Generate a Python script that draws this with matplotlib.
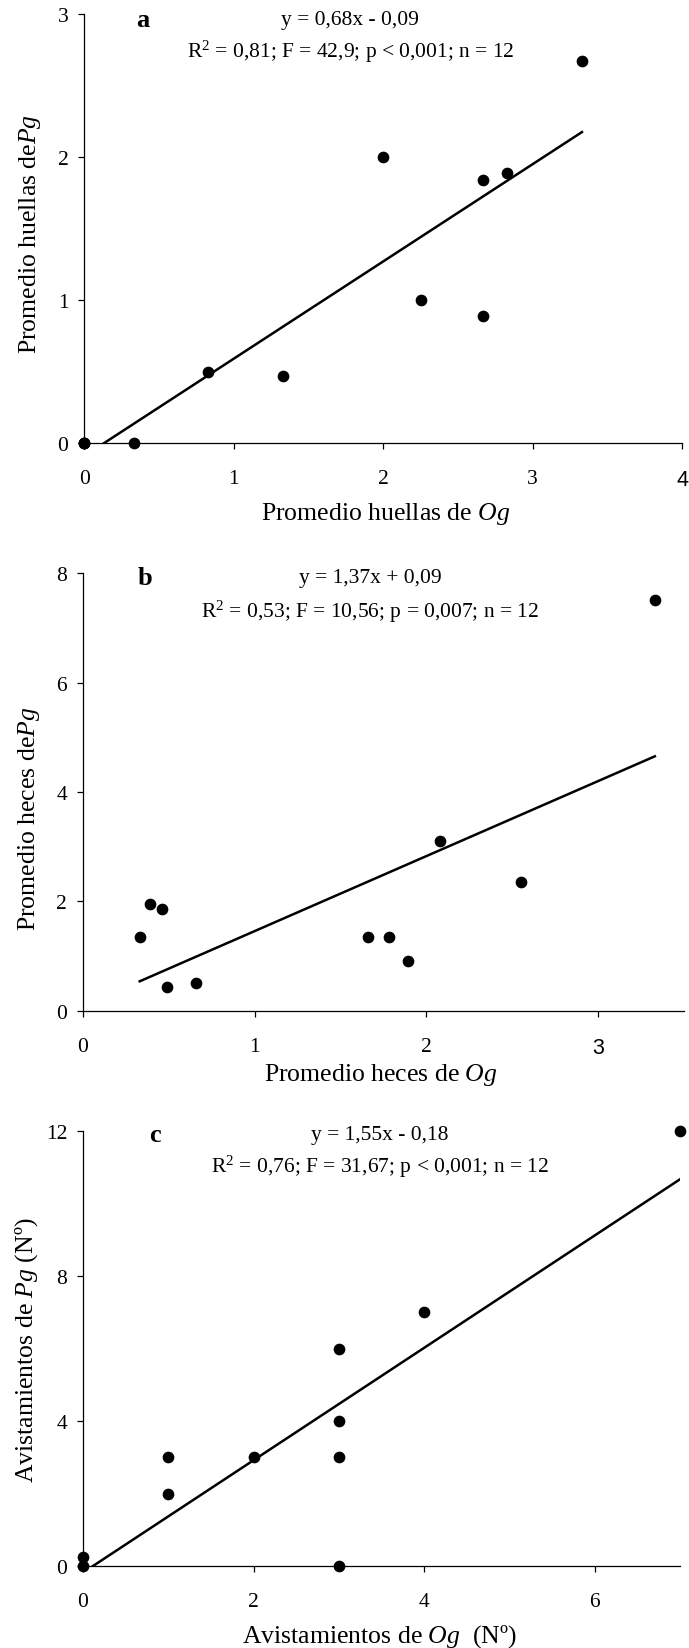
import matplotlib
matplotlib.use("Agg")
import matplotlib.pyplot as plt

plt.rcParams['font.family'] = ['Liberation Serif', 'DejaVu Serif']
plt.rcParams['mathtext.fontset'] = 'custom'
plt.rcParams['mathtext.rm'] = 'Liberation Serif'
plt.rcParams['mathtext.it'] = 'Liberation Serif:italic'
plt.rcParams['mathtext.bf'] = 'Liberation Serif:bold'

# --- data ---
# a: footprints
huellas_og = [0, 0, 0, 0.33, 0.83, 1.33, 2.0, 2.25, 2.67, 2.67, 2.83, 3.33]
huellas_pg = [0, 0, 0, 0, 0.5, 0.47, 2.0, 1.0, 1.84, 0.89, 1.89, 2.67]
coef_a = (0.68, -0.09)

# b: faeces
heces_og = [0.33, 0.39, 0.46, 0.49, 0.66, 1.66, 1.78, 1.89, 2.08, 2.55, 3.33]
heces_pg = [1.35, 1.95, 1.87, 0.43, 0.52, 1.35, 1.35, 0.91, 3.10, 2.35, 7.50]
coef_b = (1.37, 0.09)

# c: sightings
avist_og = [0, 0, 1, 1, 2, 3, 3, 3, 3, 4, 7]
avist_pg = [0, 0.25, 3, 2, 3, 6, 4, 3, 0, 7, 12]
coef_c = (1.55, -0.18)

panels = [
    dict(x=huellas_og, y=huellas_pg, coef=coef_a, letter='a',
         eq='y = 0,68x - 0,09',
         stats='R$^{2}$ = 0,81; F = 42,9; p < 0,001; n = 12',
         xlim=(0, 4), ylim=(0, 3), xticks=[0, 1, 2, 3, 4], yticks=[0, 1, 2, 3],
         xlabel='Promedio huellas de $\\it{Og}$', ylabel='Promedio huellas de$\\it{Pg}$'),
    dict(x=heces_og, y=heces_pg, coef=coef_b, letter='b',
         eq='y = 1,37x + 0,09',
         stats='R$^{2}$ = 0,53; F = 10,56; p = 0,007; n = 12',
         xlim=(0, 3.5), ylim=(0, 8), xticks=[0, 1, 2, 3], yticks=[0, 2, 4, 6, 8],
         xlabel='Promedio heces de $\\it{Og}$', ylabel='Promedio heces de$\\it{Pg}$'),
    dict(x=avist_og, y=avist_pg, coef=coef_c, letter='c',
         eq='y = 1,55x - 0,18',
         stats='R$^{2}$ = 0,76; F = 31,67; p < 0,001; n = 12',
         xlim=(0, 7), ylim=(0, 12), xticks=[0, 2, 4, 6], yticks=[0, 4, 8, 12],
         xlabel='Avistamientos de $\\it{Og}$  (Nº)', ylabel='Avistamientos de $\\it{Pg}$ (Nº)'),
]

# axes boxes in figure fraction
boxes = [
    [0.1224, 0.7307, 0.8675, 0.2602],
    [0.1205, 0.3863, 0.8723, 0.2656],
    [0.1205, 0.0497, 0.8665, 0.2638],
]
# text positions in axes fraction
text_pos = [
    dict(lx=0.098, ex=0.445, ey=0.988, sy=0.914, xl=(0.505, -0.163), yl=(-0.091, 0.49)),
    dict(lx=0.103, ex=0.478, ey=0.989, sy=0.913, xl=(0.496, -0.144), yl=(-0.090, 0.44)),
    dict(lx=0.121, ex=0.497, ey=0.991, sy=0.920, xl=(0.497, -0.159), yl=(-0.095, 0.499)),
]

fig = plt.figure(figsize=(6.89, 16.49), dpi=100)

for i, (p, box, tp) in enumerate(zip(panels, boxes, text_pos)):
    ax = fig.add_axes(box)
    ax.scatter(p['x'], p['y'], s=55, color='black', zorder=3, clip_on=False)

    # fitted line: starts where it crosses y=0 (or at the first x), ends at the last x
    m, b = p['coef']
    x0 = max(min(p['x']), -b / m if b < 0 else min(p['x']))
    x1 = max(p['x'])
    ax.plot([x0, x1], [m * x0 + b, m * x1 + b], color='black', lw=1.8, zorder=2)

    ax.set_xlim(*p['xlim'])
    ax.set_ylim(*p['ylim'])
    ax.set_xticks(p['xticks'])
    ax.set_yticks(p['yticks'])
    for s in ['top', 'right']:
        ax.spines[s].set_visible(False)
    for s in ['left', 'bottom']:
        ax.spines[s].set_linewidth(0.9)
    ax.tick_params(axis='both', direction='out', length=4.5, width=0.9, labelsize=15.5)
    ax.tick_params(axis='x', pad=14)
    ax.tick_params(axis='y', pad=7)
    # the last x label in a and b is set in a sans face in the original
    if i < 2:
        ax.get_xticklabels()[-1].set_family(['Liberation Sans', 'DejaVu Sans'])

    ax.text(tp['lx'], tp['ey'], p['letter'], transform=ax.transAxes, ha='center', va='center',
            fontsize=19, fontweight='bold')
    ax.text(tp['ex'], tp['ey'], p['eq'], transform=ax.transAxes, ha='center', va='center', fontsize=15.5)
    ax.text(tp['ex'], tp['sy'], p['stats'], transform=ax.transAxes, ha='center', va='center', fontsize=15.5)

    ax.set_xlabel(p['xlabel'], fontsize=18.5)
    ax.xaxis.set_label_coords(*tp['xl'])
    ax.xaxis.label.set_va('center')
    ax.set_ylabel(p['ylabel'], fontsize=18.5)
    ax.yaxis.set_label_coords(*tp['yl'])
    ax.yaxis.label.set_va('center')

fig.savefig('out.png', dpi=100)
